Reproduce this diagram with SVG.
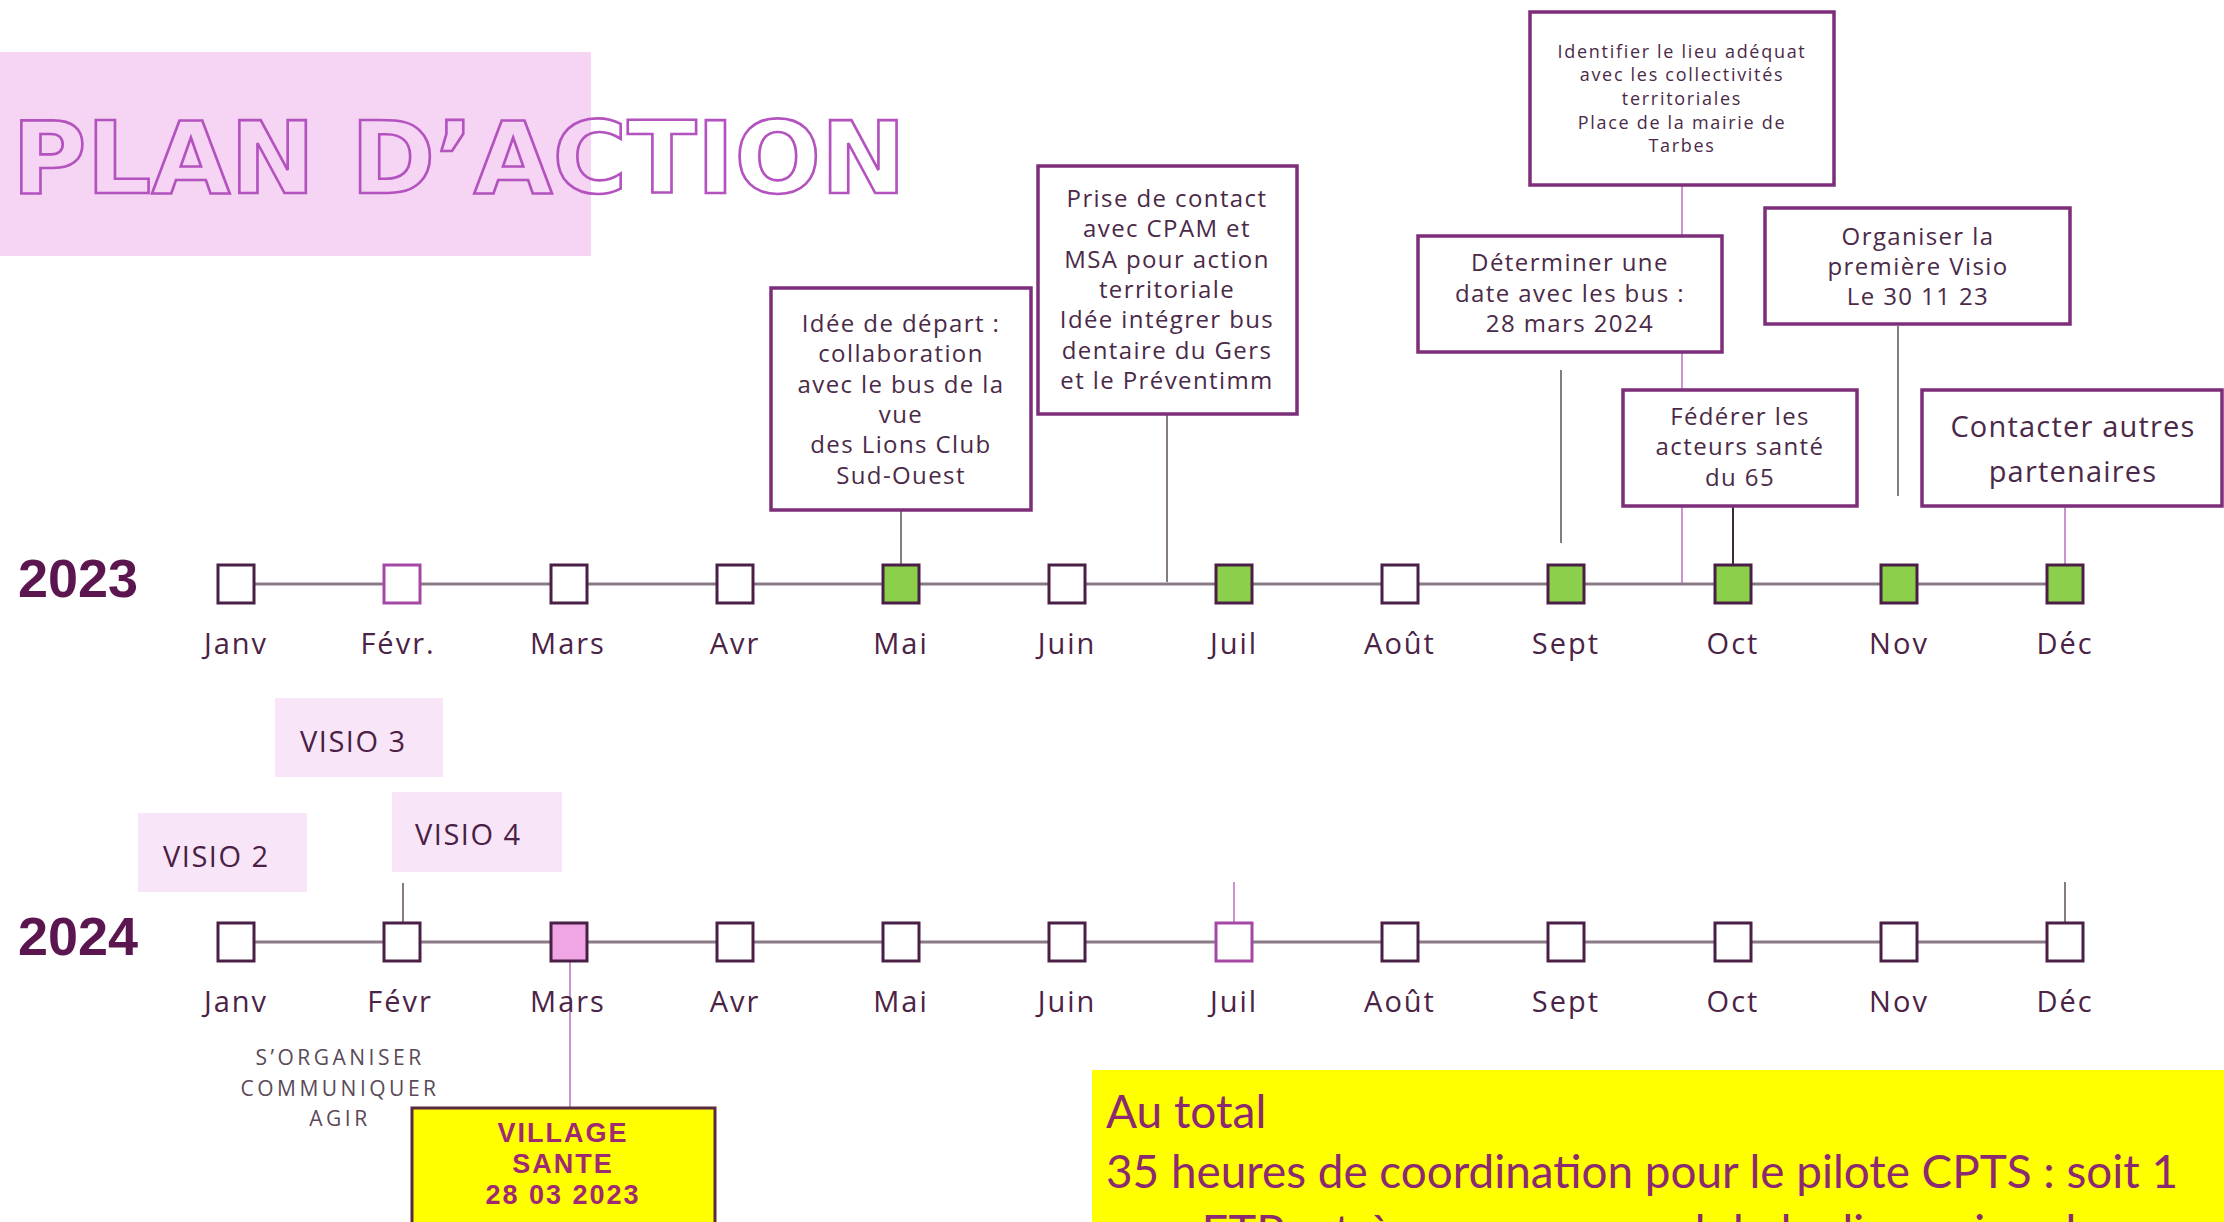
<svg xmlns="http://www.w3.org/2000/svg" width="2224" height="1222" viewBox="0 0 2224 1222">
<style>
.bg{fill:#ffffff}
.title{font-family:"DejaVu Sans",sans-serif;font-weight:bold;font-size:100px;fill:none;stroke:#b452bf;stroke-width:2.6}
.year{font-family:"Liberation Sans",sans-serif;font-weight:bold;font-size:54px;fill:#5b1650}
.month{font-family:"Open Sans",sans-serif;font-size:29px;fill:#4b2346;text-anchor:middle;letter-spacing:2px}
.mbox{fill:#ffffff;stroke:#4a1f45;stroke-width:3}
.mbox.pink{stroke:#a548a5}
.mbox.green{fill:#8bcf4b}
.mbox.rose{fill:#f0a6e4}
.tl{stroke:#8a7a88;stroke-width:3;fill:none}
.card{fill:#ffffff;stroke:#7d2e7a;stroke-width:3.5}
.ctext{font-family:"Open Sans",sans-serif;font-size:24px;fill:#4a2a48;text-anchor:middle;letter-spacing:1.4px}
.small{font-size:18px;letter-spacing:1.7px}
.big{font-size:29px;letter-spacing:1.2px}
.cg{stroke:#5e4e5c;stroke-width:1.5}
.cm{stroke:#c58ac5;stroke-width:1.8}
.cd{stroke:#3e2a3c;stroke-width:2}
.visio{fill:#f8e6f8}
.vtext{font-family:"Open Sans",sans-serif;font-size:29px;fill:#4a2045;letter-spacing:1.5px}
.act{font-family:"Open Sans",sans-serif;font-size:21px;fill:#5a4a58;text-anchor:middle;letter-spacing:3.5px}
.vil{font-family:"Liberation Sans",sans-serif;font-weight:bold;font-size:27px;fill:#a02a72;text-anchor:middle;letter-spacing:2px}
.tot{font-family:Lato,"Open Sans",sans-serif;font-size:46px;fill:#8b2a70}
</style>
<rect class="bg" x="0" y="0" width="2224" height="1222"/>

<g id="title">
<rect x="0" y="52" width="591" height="204" fill="#f5d5f3"/>
<text class="title" x="12" y="193" textLength="894" lengthAdjust="spacingAndGlyphs">PLAN D’ACTION</text>
</g>

<g id="connectors">
<line class="cg" x1="901" y1="486" x2="901" y2="565"/>
<line class="cg" x1="1167" y1="414" x2="1167" y2="582"/>
<line class="cg" x1="1561" y1="370" x2="1561" y2="543"/>
<line class="cm" x1="1682" y1="185" x2="1682" y2="584"/>
<line class="cd" x1="1733" y1="503" x2="1733" y2="574"/>
<line class="cg" x1="1898" y1="326" x2="1898" y2="496"/>
<line class="cm" x1="2065" y1="507" x2="2065" y2="566"/>
<line class="cg" x1="403" y1="883" x2="403" y2="923"/>
<line class="cm" x1="570" y1="961" x2="570" y2="1115"/>
<line class="cm" x1="1234" y1="882" x2="1234" y2="923"/>
<line class="cg" x1="2065" y1="882" x2="2065" y2="923"/>
</g>

<g id="timeline-2023">
<text class="year" x="18" y="597">2023</text>
<line class="tl" x1="236" y1="584" x2="2065" y2="584"/>
<rect class="mbox" x="218" y="565" width="36" height="38"/>
<rect class="mbox pink" x="384" y="565" width="36" height="38"/>
<rect class="mbox" x="551" y="565" width="36" height="38"/>
<rect class="mbox" x="717" y="565" width="36" height="38"/>
<rect class="mbox green" x="883" y="565" width="36" height="38"/>
<rect class="mbox" x="1049" y="565" width="36" height="38"/>
<rect class="mbox green" x="1216" y="565" width="36" height="38"/>
<rect class="mbox" x="1382" y="565" width="36" height="38"/>
<rect class="mbox green" x="1548" y="565" width="36" height="38"/>
<rect class="mbox green" x="1715" y="565" width="36" height="38"/>
<rect class="mbox green" x="1881" y="565" width="36" height="38"/>
<rect class="mbox green" x="2047" y="565" width="36" height="38"/>
<text class="month" x="236" y="654">Janv</text>
<text class="month" x="398" y="654">Févr.</text>
<text class="month" x="568" y="654">Mars</text>
<text class="month" x="735" y="654">Avr</text>
<text class="month" x="901" y="654">Mai</text>
<text class="month" x="1067" y="654">Juin</text>
<text class="month" x="1234" y="654">Juil</text>
<text class="month" x="1400" y="654">Août</text>
<text class="month" x="1566" y="654">Sept</text>
<text class="month" x="1733" y="654">Oct</text>
<text class="month" x="1899" y="654">Nov</text>
<text class="month" x="2065" y="654">Déc</text>
</g>

<g id="timeline-2024">
<text class="year" x="18" y="955">2024</text>
<line class="tl" x1="236" y1="942" x2="2065" y2="942"/>
<rect class="mbox" x="218" y="923" width="36" height="38"/>
<rect class="mbox" x="384" y="923" width="36" height="38"/>
<rect class="mbox rose" x="551" y="923" width="36" height="38"/>
<rect class="mbox" x="717" y="923" width="36" height="38"/>
<rect class="mbox" x="883" y="923" width="36" height="38"/>
<rect class="mbox" x="1049" y="923" width="36" height="38"/>
<rect class="mbox pink" x="1216" y="923" width="36" height="38"/>
<rect class="mbox" x="1382" y="923" width="36" height="38"/>
<rect class="mbox" x="1548" y="923" width="36" height="38"/>
<rect class="mbox" x="1715" y="923" width="36" height="38"/>
<rect class="mbox" x="1881" y="923" width="36" height="38"/>
<rect class="mbox" x="2047" y="923" width="36" height="38"/>
<text class="month" x="236" y="1012">Janv</text>
<text class="month" x="400" y="1012">Févr</text>
<text class="month" x="568" y="1012">Mars</text>
<text class="month" x="735" y="1012">Avr</text>
<text class="month" x="901" y="1012">Mai</text>
<text class="month" x="1067" y="1012">Juin</text>
<text class="month" x="1234" y="1012">Juil</text>
<text class="month" x="1400" y="1012">Août</text>
<text class="month" x="1566" y="1012">Sept</text>
<text class="month" x="1733" y="1012">Oct</text>
<text class="month" x="1899" y="1012">Nov</text>
<text class="month" x="2065" y="1012">Déc</text>
</g>

<g id="idee-depart">
<rect class="card" x="771" y="288" width="260" height="222"/>
<text class="ctext" x="901" y="332">Idée de départ :</text>
<text class="ctext" x="901" y="362">collaboration</text>
<text class="ctext" x="901" y="393">avec le bus de la</text>
<text class="ctext" x="901" y="423">vue</text>
<text class="ctext" x="901" y="453">des Lions Club</text>
<text class="ctext" x="901" y="484">Sud-Ouest</text>
</g>

<g id="prise-contact">
<rect class="card" x="1038" y="166" width="259" height="248"/>
<text class="ctext" x="1167" y="207">Prise de contact</text>
<text class="ctext" x="1167" y="237">avec CPAM et</text>
<text class="ctext" x="1167" y="268">MSA pour action</text>
<text class="ctext" x="1167" y="298">territoriale</text>
<text class="ctext" x="1167" y="328">Idée intégrer bus</text>
<text class="ctext" x="1167" y="359">dentaire du Gers</text>
<text class="ctext" x="1167" y="389">et le Préventimm</text>
</g>

<g id="identifier-lieu">
<rect class="card" x="1530" y="12" width="304" height="173"/>
<text class="ctext small" x="1682" y="58">Identifier le lieu adéquat</text>
<text class="ctext small" x="1682" y="81">avec les collectivités</text>
<text class="ctext small" x="1682" y="105">territoriales</text>
<text class="ctext small" x="1682" y="129">Place de la mairie de</text>
<text class="ctext small" x="1682" y="152">Tarbes</text>
</g>

<g id="determiner-date">
<rect class="card" x="1418" y="236" width="304" height="116"/>
<text class="ctext" x="1570" y="271">Déterminer une</text>
<text class="ctext" x="1570" y="302">date avec les bus :</text>
<text class="ctext" x="1570" y="332">28 mars 2024</text>
</g>

<g id="organiser-visio">
<rect class="card" x="1765" y="208" width="305" height="116"/>
<text class="ctext" x="1918" y="245">Organiser la</text>
<text class="ctext" x="1918" y="275">première Visio</text>
<text class="ctext" x="1918" y="305">Le 30 11 23</text>
</g>

<g id="federer">
<rect class="card" x="1623" y="390" width="234" height="116"/>
<text class="ctext" x="1740" y="425">Fédérer les</text>
<text class="ctext" x="1740" y="455">acteurs santé</text>
<text class="ctext" x="1740" y="486">du 65</text>
</g>

<g id="contacter">
<rect class="card" x="1922" y="390" width="300" height="116"/>
<text class="ctext big" x="2073" y="437">Contacter autres</text>
<text class="ctext big" x="2073" y="482">partenaires</text>
</g>

<g id="visio-3">
<rect class="visio" x="275" y="698" width="168" height="79"/>
<text class="vtext" x="300" y="752">VISIO 3</text>
</g>
<g id="visio-2">
<rect class="visio" x="138" y="813" width="169" height="79"/>
<text class="vtext" x="163" y="867">VISIO 2</text>
</g>
<g id="visio-4">
<rect class="visio" x="392" y="792" width="170" height="80"/>
<text class="vtext" x="415" y="845">VISIO 4</text>
</g>

<g id="actions">
<text class="act" x="340" y="1065">S’ORGANISER</text>
<text class="act" x="340" y="1096">COMMUNIQUER</text>
<text class="act" x="340" y="1126">AGIR</text>
</g>

<g id="village-sante">
<rect x="412" y="1108" width="303" height="130" fill="#ffff00" stroke="#5a2a40" stroke-width="3"/>
<text class="vil" x="563" y="1142">VILLAGE</text>
<text class="vil" x="563" y="1173">SANTE</text>
<text class="vil" x="563" y="1204">28 03 2023</text>
</g>

<g id="total">
<rect x="1092" y="1070" width="1132" height="160" fill="#ffff00"/>
<text class="tot" x="1106" y="1128">Au total</text>
<text class="tot" x="1106" y="1188" textLength="1072" lengthAdjust="spacingAndGlyphs">35 heures de coordination pour le pilote CPTS : soit 1</text>
<text class="tot" x="1106" y="1248" textLength="995" lengthAdjust="spacingAndGlyphs">sem ETP – très peu au regard de la dimension de</text>
</g>
</svg>
